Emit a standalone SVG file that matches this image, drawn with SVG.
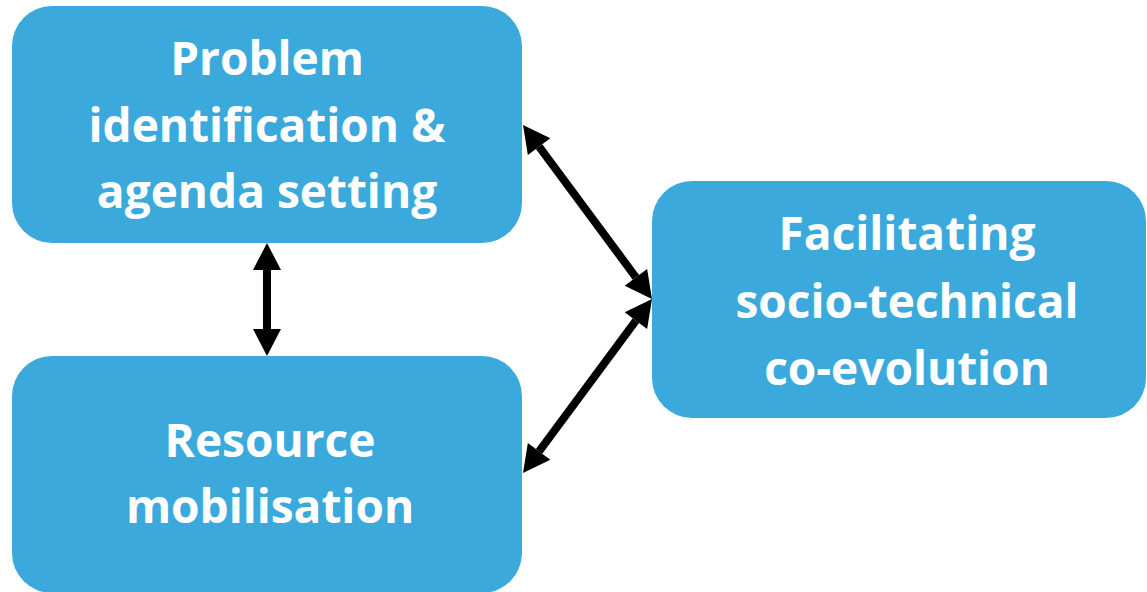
<svg xmlns="http://www.w3.org/2000/svg" width="1147" height="592" viewBox="0 0 1147 592">
<style>
.box{fill:#3ca9dc;}
.lbl{font-family:"Open Sans",Lato,"Liberation Sans",sans-serif;font-weight:bold;font-size:46px;fill:#ffffff;text-anchor:middle;font-variant-ligatures:none;}
.con{stroke:#000;stroke-width:8;fill:none;marker-start:url(#ah);marker-end:url(#ah);}
</style>
<defs>
<marker id="ah" markerUnits="userSpaceOnUse" markerWidth="30" markerHeight="30" viewBox="0 -15 30 30" refX="0" refY="0" orient="auto-start-reverse" overflow="visible">
<path d="M0,-14 L27,0 L0,14 z" fill="#000"/>
</marker>
</defs>
<g id="node-problem">
<rect class="box" x="12" y="6" width="510" height="237" rx="40" ry="40"/>
<text class="lbl" x="267" y="75">Problem</text>
<text class="lbl" x="267" y="142">identification &amp;</text>
<text class="lbl" x="267" y="208">agenda setting</text>
</g>
<g id="node-resource">
<rect class="box" x="12" y="356" width="510" height="237" rx="40" ry="40"/>
<text class="lbl" x="270" y="457">Resource</text>
<text class="lbl" x="270" y="523">mobilisation</text>
</g>
<g id="node-facilitating">
<rect class="box" x="652" y="181" width="494" height="237" rx="40" ry="40"/>
<text class="lbl" x="907" y="250">Facilitating</text>
<text class="lbl" x="907" y="318">socio-technical</text>
<text class="lbl" x="907" y="385">co-evolution</text>
</g>
<g id="connectors">
<line class="con" x1="267" y1="270" x2="267" y2="329"/>
<line class="con" x1="539.1" y1="146.7" x2="635.9" y2="277.3"/>
<line class="con" x1="635.9" y1="320.7" x2="539.1" y2="451.3"/>
</g>
</svg>
